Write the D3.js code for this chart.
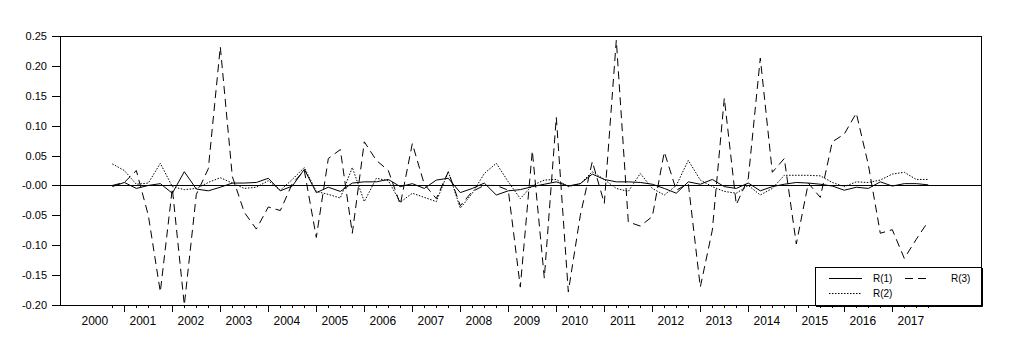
<!DOCTYPE html>
<html>
<head>
<meta charset="utf-8">
<script src="https://cdn.jsdelivr.net/npm/d3@7"></script>
<style>
  html, body { margin: 0; padding: 0; background: #fff; }
  svg { display: block; font-family: Arial, "Liberation Sans", sans-serif; }
</style>
</head>
<body>
<svg id="chart" width="1010" height="354"></svg>
<script>
// quarterly data, first observation 2000Q4, last 2017Q4
const firstYear = 2000, firstQuarter = 4;
const yearLabels = [2000, 2001, 2002, 2003, 2004, 2005, 2006, 2007, 2008,
                    2009, 2010, 2011, 2012, 2013, 2014, 2015, 2016, 2017];
const yTicks = [-0.20, -0.15, -0.10, -0.05, 0.00, 0.05, 0.10, 0.15, 0.20, 0.25];

const r1 = [-0.002, 0.005, -0.005, 0.000, 0.003, -0.013, 0.023, -0.006, -0.009, -0.003,
            0.004, 0.004, 0.005, 0.012, -0.009, -0.001, 0.027, -0.012, -0.003, -0.010,
            0.004, 0.006, 0.006, 0.010, -0.002, 0.003, -0.005, 0.009, 0.012, -0.012,
            -0.005, 0.004, -0.016, -0.009, -0.007, -0.002, 0.002, 0.006, -0.001, 0.003,
            0.019, 0.010, 0.006, 0.006, 0.005, 0.002, -0.005, -0.013, 0.006, 0.002,
            0.010, -0.002, -0.005, 0.004, -0.009, -0.002, 0.002, 0.005, 0.004, 0.002,
            -0.001, -0.008, -0.003, -0.005, 0.006, -0.001, 0.003, 0.003, 0.001];

const r2 = [0.036, 0.025, 0.002, 0.004, 0.037, -0.002, -0.007, -0.005, 0.005, 0.013,
            0.004, -0.005, -0.003, 0.008, -0.008, 0.010, 0.030, -0.010, -0.015, -0.021,
            0.030, -0.027, 0.012, 0.008, -0.028, -0.013, -0.020, -0.027, 0.023, -0.038,
            -0.013, 0.020, 0.037, 0.006, -0.022, 0.000, 0.009, 0.010, -0.002, 0.003,
            0.023, 0.010, -0.005, -0.010, 0.020, -0.005, -0.016, 0.000, 0.042, 0.009,
            -0.002, -0.010, -0.013, 0.000, -0.016, -0.005, 0.017, 0.017, 0.017, 0.016,
            0.005, -0.002, 0.006, 0.005, 0.009, 0.019, 0.022, 0.010, 0.010];

const r3 = [0.000, 0.005, 0.025, -0.050, -0.178, -0.005, -0.200, -0.015, 0.028, 0.232,
            0.015, -0.045, -0.073, -0.036, -0.042, 0.003, 0.025, -0.087, 0.045, 0.060,
            -0.080, 0.073, 0.042, 0.025, -0.032, 0.070, 0.002, -0.022, 0.023, -0.034,
            -0.010, 0.000, 0.000, -0.008, -0.170, 0.058, -0.155, 0.114, -0.178, -0.050,
            0.040, -0.030, 0.243, -0.061, -0.068, -0.052, 0.056, -0.008, 0.003, -0.170,
            -0.075, 0.146, -0.032, 0.012, 0.213, 0.022, 0.045, -0.098, 0.004, -0.020,
            0.073, 0.086, 0.121, 0.035, -0.080, -0.074, -0.122, -0.090, -0.060];

const seriesNames = ["R(1)", "R(2)", "R(3)"];

const svg = d3.select("#chart");
const plot = { left: 60, right: 981, top: 36, bottom: 305 };

// temps en anys fraccionaris
const tOf = i => firstYear + (firstQuarter - 1) / 4 + i / 4;
const times = r1.map((d, i) => tOf(i));

const x = d3.scaleLinear()
            .domain([1999.66, 2018.848])
            .range([plot.left, plot.right]);

const y = d3.scaleLinear()
            .domain([-0.20, 0.25])
            .range([plot.bottom, plot.top]);

const fmt = v => (v <= 0 ? "-" : "") + Math.abs(v).toFixed(2);

// eix Y
const gy = svg.append("g")
              .attr("transform", `translate(${plot.left},0)`)
              .call(d3.axisLeft(y).tickValues(yTicks).tickSize(8).tickSizeOuter(0)
                      .tickPadding(5).tickFormat(fmt));
gy.selectAll("text").style("font-size", "11px").attr("fill", "#000");
gy.selectAll("line, path").attr("stroke", "#000").attr("shape-rendering", "crispEdges");

// eix X: quarters petits, Q1 llargs
const gx = svg.append("g").attr("transform", `translate(0,${plot.bottom})`);
gx.append("g")
  .call(d3.axisBottom(x).tickValues(times).tickSize(3).tickSizeOuter(0).tickFormat(""));
gx.append("g")
  .call(d3.axisBottom(x).tickValues(times.filter((t, i) => (i + firstQuarter - 1) % 4 === 0))
          .tickSize(7).tickSizeOuter(0).tickFormat(""));
gx.append("g")
  .call(d3.axisBottom(x).tickValues(yearLabels.map(yr => yr + 0.375))
          .tickSize(0).tickSizeOuter(0).tickPadding(11).tickFormat(d => Math.floor(d)));
gx.selectAll("text").style("font-size", "12px").attr("fill", "#000");
gx.selectAll("line, path").attr("stroke", "#000").attr("shape-rendering", "crispEdges");

// marc
svg.append("rect")
   .attr("x", plot.left + 0.5).attr("y", plot.top + 0.5)
   .attr("width", plot.right - plot.left).attr("height", plot.bottom - plot.top)
   .attr("fill", "none").attr("stroke", "#000");

// línia del zero
svg.append("line")
   .attr("x1", plot.left).attr("x2", plot.right)
   .attr("y1", Math.round(y(0)) + 0.5).attr("y2", Math.round(y(0)) + 0.5)
   .attr("stroke", "#000");

const styles = [
  { values: r1, dash: null },
  { values: r2, dash: "1.5,1.5" },
  { values: r3, dash: "8,5" }
];

const line = d3.line().x((d, i) => x(times[i])).y(d => y(d));

styles.forEach(s => {
  svg.append("path")
     .datum(s.values)
     .attr("d", line)
     .attr("fill", "none")
     .attr("stroke", "#000")
     .attr("stroke-width", 1)
     .attr("stroke-dasharray", s.dash);
});

// llegenda
const lg = svg.append("g").attr("transform", "translate(815,267)");
lg.append("rect")
  .attr("x", 0.5).attr("y", 0.5).attr("width", 166).attr("height", 38)
  .attr("fill", "#fff").attr("stroke", "#000");
lg.append("path")
  .attr("d", "M1,39.5H167.5V1")
  .attr("fill", "none").attr("stroke", "#000");

const legPos = [
  { lx: 14, ty: 11.5, tx: 58 },
  { lx: 14, ty: 26.5, tx: 58 },
  { lx: 90, ty: 11.5, tx: 136 }
];
seriesNames.forEach((name, i) => {
  const p = legPos[i];
  lg.append("line")
    .attr("x1", p.lx).attr("x2", p.lx + (i === 2 ? 26 : 33))
    .attr("y1", p.ty).attr("y2", p.ty)
    .attr("stroke", "#000")
    .attr("stroke-dasharray", styles[i].dash);
  lg.append("text")
    .attr("x", p.tx).attr("y", p.ty)
    .attr("dy", "0.35em")
    .style("font-size", "10px")
    .text(name);
});
</script>
</body>
</html>
